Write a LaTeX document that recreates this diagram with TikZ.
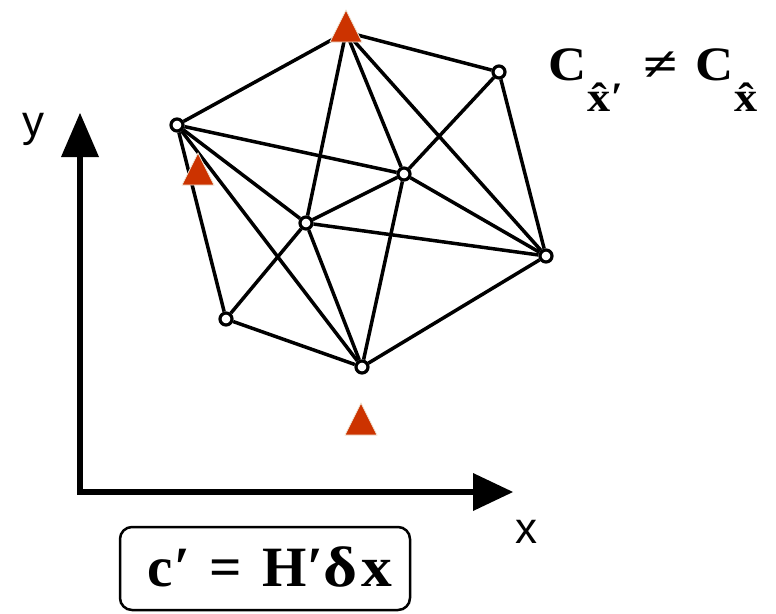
\documentclass[tikz,border=0pt]{standalone}
\usepackage{fontspec}
\setmainfont{Liberation Serif}
\newfontfamily\axisfont{Liberation Sans}
\definecolor{markred}{RGB}{204,51,0}
\definecolor{markrim}{RGB}{240,232,216}
\begin{document}
\begin{tikzpicture}[x=1pt,y=-1pt,
  edge/.style={line width=3.5pt},
  station/.style={circle,draw,line width=3.2pt,fill=white,minimum size=12pt,inner sep=0pt},
  marker/.style={fill=markred,draw=markrim,line width=0.8pt,line join=miter},
  axis/.style={line width=6pt,line join=miter},
  axislabel/.style={font=\axisfont\fontsize{44}{44}\selectfont,inner sep=0pt,anchor=base}]
\useasboundingbox (0,0) rectangle (776,613);
% network
\coordinate (T) at (346,32);
\node[station] (A) at (499,72) {};
\node[station] (B) at (177,125) {};
\node[station] (C) at (404,174) {};
\node[station] (D) at (306,223) {};
\node[station] (E) at (546,256) {};
\node[station] (F) at (226,319) {};
\node[station] (G) at (362,367) {};
\foreach \u/\v in {T/B,T/A,T/D,T/C,T/E,A/C,A/E,B/C,B/D,B/G,B/F,C/D,C/E,C/G,D/E,D/F,D/G,F/G,G/E}
  \draw[edge] (\u) -- (\v);
% markers
\draw[marker] (346,10) -- (362,42) -- (330,42) -- cycle;
\draw[marker] (198,153) -- (214,185) -- (182,185) -- cycle;
\draw[marker] (361,403) -- (377,435) -- (345,435) -- cycle;
% axes
\coordinate (O) at (80,492);
\coordinate (ytip) at (80,113);
\coordinate (xtip) at (513,492);
\coordinate (ybase) at (80,156);
\coordinate (xbase) at (474,492);
\draw[axis] (ybase) -- (O) -- (xbase);
\fill (ytip) -- (61,157) -- (99,157) -- cycle;
\fill (xtip) -- (473,473) -- (473,511) -- cycle;
\node[axislabel] (ylab) at (33,136) {y};
\node[axislabel] (xlab) at (526,543) {x};
% labels
\node[anchor=base west,inner sep=0pt,font=\bfseries\fontsize{48}{48}\selectfont] (cov) at (548,80)
  {\makebox[94pt][l]{\scalebox{1.1}[1]{C}\kern1pt\raisebox{-31pt}{\fontsize{42}{42}\selectfont\scalebox{1.1}[1]{\^{x}}\kern1pt′}}\makebox[36pt][c]{\scalebox{1.3}[1]{≠}}\hspace{17pt}\scalebox{1.1}[1]{C}\kern1pt\raisebox{-31pt}{\fontsize{42}{42}\selectfont\scalebox{1.1}[1]{\^{x}}}};
\node[draw,rounded corners=12pt,line width=2.5pt,minimum width=290pt,minimum height=83pt,inner sep=0pt,
  text height=40pt,text depth=5pt,
  font=\bfseries\fontsize{57}{57}\selectfont] (eq) at (265,568.5)
  {\makebox[290pt][l]{\hspace{27pt}\makebox[59pt][l]{c\kern2pt′}\makebox[40pt][c]{=}\hspace{17pt}H′\scalebox{1.15}[1]{δ}\kern4pt\scalebox{1.08}[1]{x}}};
\end{tikzpicture}
\end{document}
